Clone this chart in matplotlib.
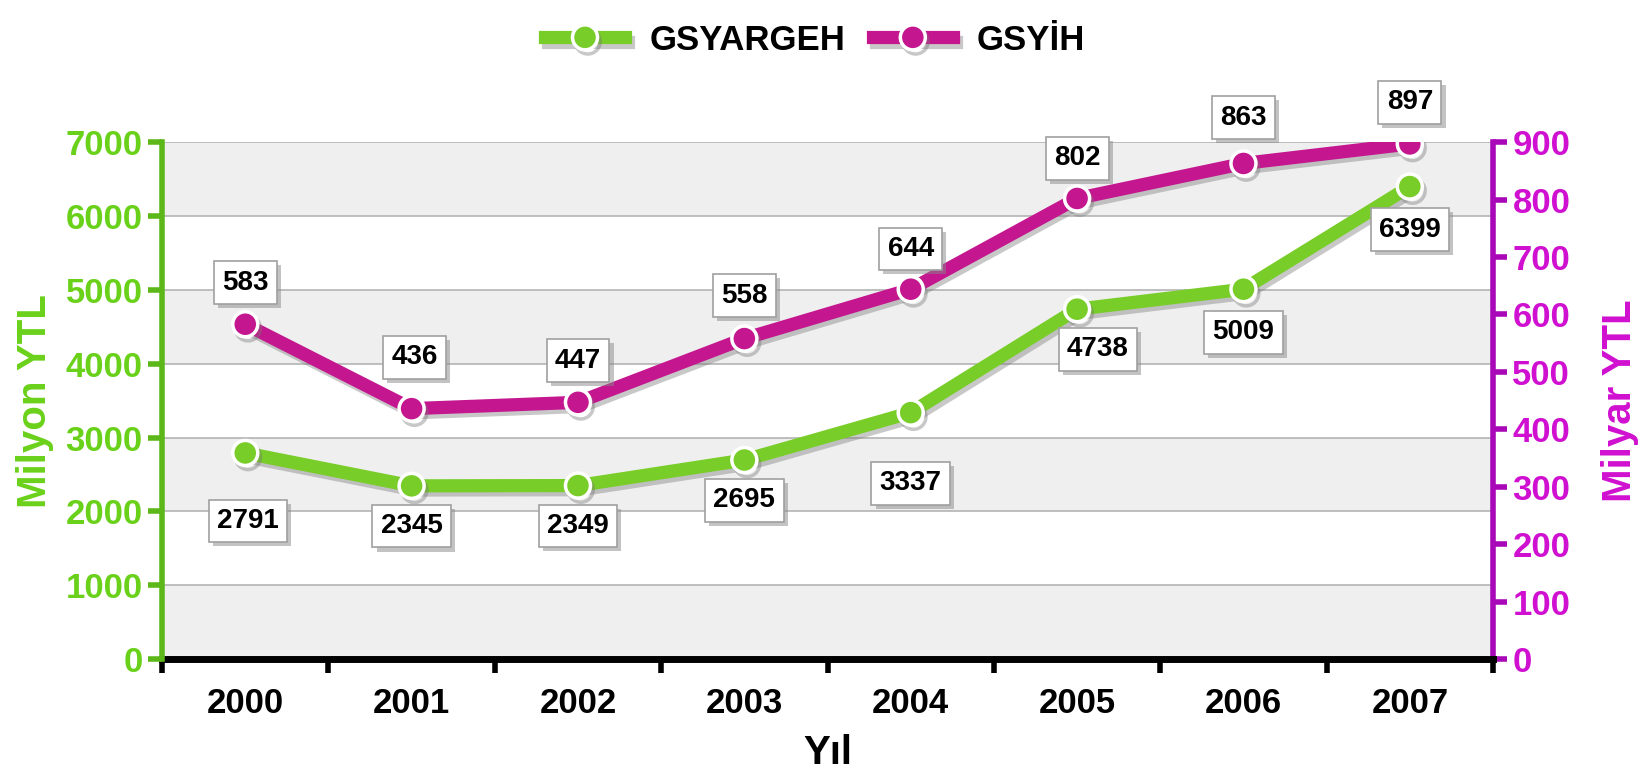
import numpy as np
import matplotlib.pyplot as plt
import matplotlib.patheffects as pe

plt.rcParams['font.family'] = ['Liberation Sans', 'DejaVu Sans']
plt.rcParams['font.weight'] = 'bold'

years = ['2000', '2001', '2002', '2003', '2004', '2005', '2006', '2007']
gsyargeh = [2791, 2345, 2349, 2695, 3337, 4738, 5009, 6399]   # Milyon YTL
gsyih = [583, 436, 447, 558, 644, 802, 863, 897]              # Milyar YTL

green = '#78cd28'
green_dark = '#5cb818'
green_txt = '#6ad11a'
mag = '#c4168e'
purple = '#a808b8'
purple_txt = '#d010d0'

x = np.arange(len(years))

fig = plt.figure(figsize=(16.47, 7.75), dpi=100)
ax2 = fig.add_axes([0.0984, 0.1497, 0.8081, 0.6668])   # back axes (right scale)
ax = ax2.twinx()                                         # front axes (left scale)
ax.yaxis.set_label_position('left')
ax.yaxis.tick_left()
ax2.yaxis.set_label_position('right')
ax2.yaxis.tick_right()

ax.set_xlim(-0.5, 7.5)
ax.set_ylim(0, 7000)
ax2.set_ylim(0, 900)

# alternating bands + grid, drawn in back axes in left-axis units
for k in range(7):
    if k % 2 == 0:
        ax2.axhspan(k * 900 / 7, (k + 1) * 900 / 7, color='#efefef', zorder=0, lw=0)
for k in range(1, 8):
    ax2.axhline(k * 900 / 7, color='#b4b4b4', lw=1.2, zorder=1)

shadow = [pe.SimpleLineShadow(offset=(2, -3), shadow_color='#777777', alpha=0.4), pe.Normal()]

ax2.plot(x, gsyih, color=mag, lw=9.5, marker='o', ms=18, mfc=mag, mec='white',
         mew=2.5, zorder=4, path_effects=shadow, solid_capstyle='round')
ax.plot(x, gsyargeh, color=green, lw=9.5, marker='o', ms=18, mfc=green, mec='white',
        mew=2.5, zorder=4, path_effects=shadow, solid_capstyle='round')

box = dict(boxstyle='square,pad=0.3', fc='white', ec='#a0a0a0', lw=1.2)
box_shadow = [pe.SimplePatchShadow(offset=(3, -3), shadow_rgbFace='#888888', alpha=0.5), pe.Normal()]

def label(axis, xi, yi, txt, dx, dy):
    t = axis.annotate(txt, (xi, yi), xytext=(dx, dy), textcoords='offset points',
                      ha='center', va='center', fontsize=20, fontweight='bold',
                      color='black', bbox=box, zorder=6, annotation_clip=False)
    t.get_bbox_patch().set_path_effects(box_shadow)

g_off = [(2, -49), (0, -29), (0, -29), (0, -29), (0, -51), (15, -29), (0, -31), (0, -31)]
m_off = [(0, 30), (2, 37), (0, 30), (0, 31), (0, 29), (0, 29), (0, 33), (0, 30)]
for i in range(len(years)):
    label(ax2, x[i], gsyih[i], str(gsyih[i]), *m_off[i])
    label(ax, x[i], gsyargeh[i], str(gsyargeh[i]), *g_off[i])

# left axis
ax.set_yticks(range(0, 7001, 1000))
ax.tick_params(axis='y', colors=green_dark, width=4, length=10, labelsize=25,
               labelcolor=green_txt, pad=4)
ax.spines['left'].set_color(green_dark)
ax.spines['left'].set_linewidth(4)
ax.set_ylabel('Milyon YTL', fontsize=29, color=green_txt, fontweight='bold', labelpad=8)

# right axis
ax2.set_yticks(range(0, 901, 100))
ax2.tick_params(axis='y', colors=purple, width=4, length=10, labelsize=25,
                labelcolor=purple_txt, pad=4)
ax2.spines['right'].set_color(purple)
ax2.spines['right'].set_linewidth(4)
ax2.set_ylabel('Milyar YTL', fontsize=29, color=purple_txt, fontweight='bold', labelpad=22)

for a in (ax, ax2):
    a.spines['top'].set_visible(False)
ax2.spines['left'].set_visible(False)
ax.spines['right'].set_visible(False)
ax2.spines['bottom'].set_linewidth(5)
ax.spines['bottom'].set_visible(False)

# x axis: ticks at bin edges, labels centered
ax2.set_xlim(-0.5, 7.5)
ax2.set_xticks(np.arange(-0.5, 8, 1))
ax2.set_xticklabels([])
ax2.set_xticks(x, minor=True)
ax2.set_xticklabels(years, minor=True, fontsize=25, fontweight='bold')
ax2.tick_params(axis='x', which='major', width=4, length=10, color='black')
ax2.tick_params(axis='x', which='minor', length=0, pad=20)
ax2.set_xlabel('Yıl', fontsize=29, fontweight='bold', labelpad=10)

for t in ax.get_yticklabels() + ax2.get_yticklabels():
    t.set_fontweight('bold')

# legend
h1, = ax.plot([], [], color=green, lw=9.5, marker='o', ms=18, mfc=green, mec='white', mew=2.5,
              path_effects=shadow)
h2, = ax.plot([], [], color=mag, lw=9.5, marker='o', ms=18, mfc=mag, mec='white', mew=2.5,
              path_effects=shadow)
fig.legend([h1, h2], ['GSYARGEH', 'GSYİH'], loc='upper center', bbox_to_anchor=(0.495, 1.01),
           ncol=2, frameon=False, prop={'size': 25, 'weight': 'bold'}, handlelength=2.3,
           columnspacing=0.8, handletextpad=0.7)

fig.savefig('out.png', dpi=100)
